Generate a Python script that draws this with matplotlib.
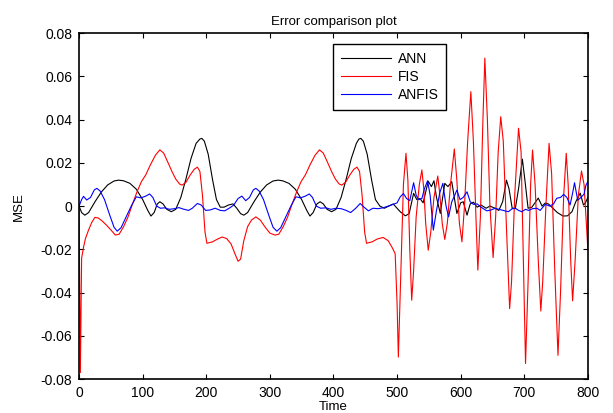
import matplotlib

matplotlib.use("Agg")

import matplotlib.pyplot as plt
from matplotlib.ticker import FuncFormatter

plt.rcParams["font.family"] = ["Liberation Sans", "DejaVu Sans"]

# ANN error (black)
ann_t = [0, 4, 9, 15, 25, 35, 45, 55, 62, 70, 80, 90, 100, 108, 113, 118, 123, 127, 132,
         138, 145, 152, 160, 168, 176, 184, 190, 193, 197, 203, 210, 216, 222, 228, 235,
         242, 248, 254, 259, 265, 275, 285, 295, 305, 313, 320, 330, 340, 350, 358, 363,
         368, 374, 379, 384, 390, 397, 404, 412, 420, 428, 436, 440, 443, 447, 453, 460,
         466, 473, 480, 487, 494, 500, 505, 513, 519, 526, 531, 536, 541, 549, 554, 558,
         562, 568, 575, 580, 586, 594, 600, 604, 610, 615, 620, 626, 632, 640, 646, 654,
         660, 666, 672, 676, 681, 686, 691, 697, 701, 706, 712, 718, 722, 728, 733, 738,
         745, 752, 761, 768, 775, 781, 788, 793, 796, 800]
ann_v = [0.0, -0.003, -0.0042, -0.003, 0.002, 0.0065, 0.0098, 0.0116, 0.012, 0.0117,
         0.0105, 0.0078, 0.003, -0.002, -0.0046, -0.003, 0.001, 0.002, 0.001, -0.0015,
         -0.0026, -0.0015, 0.004, 0.0125, 0.022, 0.029, 0.031, 0.0313, 0.030, 0.024, 0.012,
         0.003, -0.0005, -0.0005, 0.0005, 0.001, -0.001, -0.0035, -0.0042, -0.003, 0.002,
         0.0065, 0.0098, 0.0116, 0.012, 0.0117, 0.0105, 0.0078, 0.003, -0.002, -0.0046,
         -0.003, 0.001, 0.002, 0.001, -0.0015, -0.0026, -0.0015, 0.004, 0.0125, 0.022,
         0.029, 0.031, 0.0313, 0.030, 0.024, 0.012, 0.003, 0.0, -0.001, 0.0, 0.001,
         -0.001, -0.0026, -0.0045, -0.0035, 0.0059, 0.003, 0.0035, 0.0015, 0.0115, 0.009,
         0.0117, 0.004, -0.0034, 0.0105, 0.009, 0.0113, -0.0034, 0.0015, 0.002, -0.0042,
         0.001, 0.0018, -0.0005, 0.0005, -0.001, 0.0, -0.001, -0.002, 0.002, 0.012, 0.008,
         -0.001, -0.001, 0.008, 0.0217, 0.012, -0.001, -0.0005, 0.002, 0.0037, 0.0, 0.0014,
         0.001, -0.001, -0.003, -0.0046, -0.0045, -0.0026, 0.002, 0.006, 0.0005, 0.0014,
         0.004]

# FIS error (red)
fis_t = [0, 1, 2, 3, 4, 7, 10, 15, 20, 25, 30, 36, 42, 50, 57, 63, 70, 77, 84, 91, 98,
         105, 112, 120, 127, 133, 140, 146, 152, 158, 162, 168, 175, 181, 186, 190, 194,
         198, 201, 210, 218, 225, 232, 239, 245, 250, 254, 259, 265, 271, 278, 285, 292,
         300, 308, 314, 321, 328, 335, 342, 349, 356, 363, 371, 378, 384, 391, 397, 403,
         409, 413, 419, 426, 432, 437, 441, 445, 449, 452, 461, 469, 478, 486, 492, 497,
         500, 502, 506, 510, 514, 517, 520, 523, 526, 530, 535, 539, 542, 545, 549, 553,
         558, 564, 567, 571, 575, 579, 584, 590, 594, 598, 602, 606, 611, 616, 620, 624,
         627, 631, 635, 638, 642, 646, 651, 655, 659, 663, 667, 672, 677, 680, 685, 691,
         695, 699, 702, 706, 710, 713, 717, 722, 726, 729, 734, 739, 743, 748, 753, 757,
         762, 766, 769, 773, 776, 780, 785, 790, 794, 797, 800]
fis_v = [0.0, -0.040, -0.077, -0.050, -0.024, -0.019, -0.015, -0.011, -0.0075, -0.0052,
         -0.0055, -0.0068, -0.0085, -0.011, -0.0134, -0.013, -0.0095, -0.005, 0.001, 0.0065,
         0.0113, 0.0145, 0.019, 0.0235, 0.026, 0.0245, 0.020, 0.016, 0.0125, 0.0102, 0.0097,
         0.011, 0.0145, 0.017, 0.018, 0.016, 0.005, -0.012, -0.0172, -0.0165, -0.0152,
         -0.0143, -0.015, -0.0175, -0.022, -0.0255, -0.0245, -0.016, -0.0095, -0.0065,
         -0.005, -0.0065, -0.0095, -0.0125, -0.0134, -0.013, -0.0095, -0.005, 0.001, 0.0065,
         0.0113, 0.0145, 0.019, 0.0235, 0.026, 0.0245, 0.020, 0.016, 0.0125, 0.0102, 0.0097,
         0.011, 0.0145, 0.017, 0.018, 0.016, 0.005, -0.012, -0.0172, -0.0165, -0.0152,
         -0.0145, -0.016, -0.019, -0.022, -0.045, -0.0698, -0.030, 0.010, 0.0244, 0.012,
         -0.020, -0.0435, -0.030, -0.005, 0.010, 0.0167, 0.008, -0.008, -0.0204, -0.012,
         0.004, 0.0139, 0.006, -0.008, -0.0154, -0.008, 0.010, 0.0264, 0.012, -0.008,
         -0.0165, 0.0, 0.030, 0.0529, 0.030, -0.005, -0.0296, -0.005, 0.040, 0.0684, 0.040,
         0.0, -0.0238, -0.005, 0.025, 0.0413, 0.030, -0.010, -0.0474, -0.035, 0.005, 0.036,
         0.025, -0.030, -0.0728, -0.035, 0.010, 0.0259, 0.010, -0.025, -0.0485, -0.035, 0.0,
         0.029, 0.015, -0.030, -0.069, -0.040, 0.005, 0.0244, 0.010, -0.025, -0.0438,
         -0.025, 0.005, 0.0162, 0.010, -0.005, -0.020]

# ANFIS error (blue)
anfis_t = [0, 4, 7, 12, 18, 24, 28, 33, 40, 48, 55, 60, 66, 74, 82, 90, 97, 104, 111, 116,
           122, 128, 134, 142, 150, 157, 164, 172, 178, 186, 192, 199, 206, 214, 222, 229,
           236, 243, 250, 256, 262, 268, 274, 278, 283, 290, 298, 305, 311, 317, 325, 333,
           341, 348, 355, 362, 367, 373, 380, 388, 396, 404, 412, 420, 427, 435, 442, 448,
           455, 462, 470, 478, 486, 494, 500, 505, 510, 515, 520, 526, 530, 534, 539, 543,
           548, 552, 557, 562, 567, 572, 577, 581, 586, 590, 594, 599, 604, 610, 615, 620,
           626, 632, 641, 648, 654, 660, 667, 675, 681, 686, 691, 696, 702, 707, 713, 720,
           725, 733, 740, 746, 751, 757, 762, 767, 772, 776, 779, 784, 789, 794, 797, 800]
anfis_v = [0.0, 0.003, 0.0045, 0.0028, 0.004, 0.0075, 0.0082, 0.007, 0.003, -0.004,
           -0.0098, -0.0116, -0.010, -0.005, 0.0, 0.0043, 0.0038, 0.0045, 0.0056, 0.004,
           0.0, -0.001, -0.0008, -0.0015, -0.0012, -0.0007, -0.0014, -0.002, -0.001, 0.0012,
           0.0005, -0.002, -0.0018, -0.001, -0.002, -0.0022, -0.001, 0.0004, 0.0035, 0.0046,
           0.0025, 0.004, 0.0075, 0.0082, 0.007, 0.003, -0.004, -0.0098, -0.0116, -0.010,
           -0.005, 0.0, 0.0043, 0.0038, 0.0045, 0.0056, 0.004, 0.0, -0.001, -0.0008, -0.0015,
           -0.001, -0.0012, -0.002, -0.003, -0.001, 0.0012, -0.0005, -0.0022, -0.001,
           -0.0012, -0.0008, 0.0, 0.0008, 0.0015, 0.0043, 0.0058, 0.0035, 0.0025, 0.0108,
           0.005, 0.003, 0.0035, 0.008, 0.0117, 0.005, -0.0111, -0.002, 0.006, 0.0105, 0.0,
           -0.005, 0.002, 0.0045, 0.0074, 0.003, 0.004, 0.0066, 0.002, 0.0008, 0.001,
           -0.0005, -0.0022, -0.0018, -0.001, -0.0015, -0.002, -0.0026, -0.0012, -0.001,
           -0.002, -0.0026, -0.0015, -0.002, -0.0012, -0.001, -0.002, 0.0008, 0.0, 0.001,
           0.0036, 0.004, 0.0054, 0.004, 0.0005, 0.006, 0.0108, 0.0027, 0.004, 0.0055,
           0.0097, 0.0113]

x_ticks = [0, 100, 200, 300, 400, 500, 600, 700, 800]
y_ticks = [-0.08, -0.06, -0.04, -0.02, 0, 0.02, 0.04, 0.06, 0.08]

fig = plt.figure(figsize=(6.13, 4.13), dpi=100)
ax = fig.add_axes([0.129, 0.082, 0.830, 0.838])

ax.plot(ann_t, ann_v, color="black", linewidth=0.8, label="ANN")
ax.plot(fis_t, fis_v, color="#ff0000", linewidth=0.8, label="FIS")
ax.plot(anfis_t, anfis_v, color="#0000ff", linewidth=0.8, label="ANFIS")

ax.set_xlim(0, 800)
ax.set_ylim(-0.08, 0.08)
ax.set_xticks(x_ticks)
ax.set_yticks(y_ticks)
ax.yaxis.set_major_formatter(FuncFormatter(lambda v, _: f"{round(v, 4):g}"))
ax.tick_params(direction="in", length=3.5, width=0.8, top=True, right=True,
               labelsize=10, pad=5)
for sp in ax.spines.values():
    sp.set_linewidth(1.2)

ax.set_title("Error comparison plot", fontsize=9.5, pad=6)
ax.set_ylabel("MSE", fontsize=9.5, labelpad=11)
ax.set_xlabel("Time", fontsize=9.5, labelpad=1)

leg = ax.legend(loc="upper left", bbox_to_anchor=(0.499, 0.968), fancybox=False,
                edgecolor="black", framealpha=1, fontsize=10, handlelength=3.6,
                handletextpad=0.5, labelspacing=0.3, borderaxespad=0,
                borderpad=0.55)
leg.get_frame().set_linewidth(1.0)

fig.savefig("out.png", dpi=100)
